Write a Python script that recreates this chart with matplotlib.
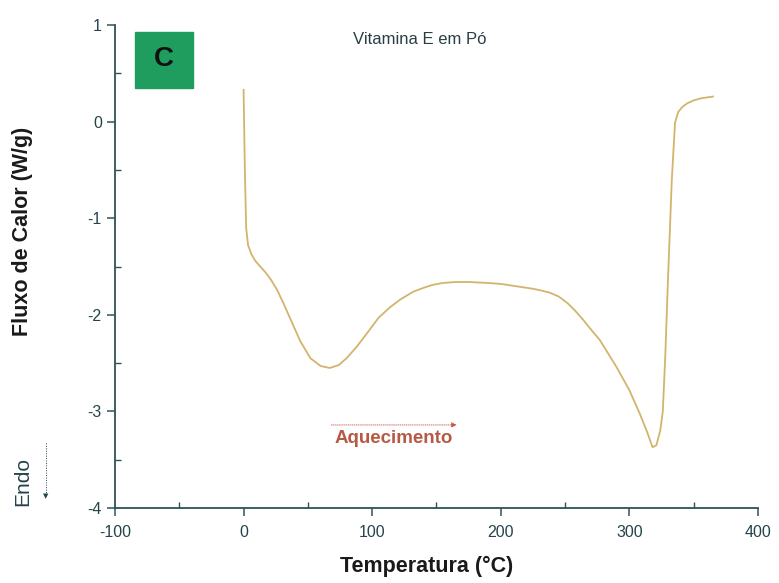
import matplotlib.pyplot as plt
from matplotlib.patches import Rectangle

plt.rcParams['font.family'] = ['Liberation Sans', 'DejaVu Sans']
plt.rcParams['axes.unicode_minus'] = False

# DSC trace, vitamin E powder
temp = [0, 1, 2, 3.5, 6, 9, 13, 17, 21, 26, 31, 36, 44, 52, 60, 67, 74, 80,
        88, 96, 105, 114, 122, 132, 140, 147, 155, 165, 175, 190, 200, 215,
        225, 232, 238, 245, 252, 258, 264, 270, 277, 290, 300, 308, 314, 318,
        321, 324, 326, 328, 330, 333, 335.5, 338, 341, 345, 350, 355, 365]
flux = [0.33, -0.5, -1.1, -1.28, -1.37, -1.44, -1.5, -1.56, -1.63, -1.74,
        -1.88, -2.03, -2.27, -2.45, -2.53, -2.55, -2.52, -2.45, -2.33, -2.19,
        -2.03, -1.92, -1.84, -1.76, -1.72, -1.69, -1.67, -1.66, -1.66, -1.67,
        -1.68, -1.71, -1.73, -1.75, -1.77, -1.81, -1.88, -1.96, -2.05, -2.15,
        -2.26, -2.54, -2.78, -3.02, -3.22, -3.37, -3.35, -3.2, -3.0, -2.4,
        -1.64, -0.6, -0.01, 0.1, 0.15, 0.19, 0.22, 0.24, 0.26]

xticks = [-100, 0, 100, 200, 300, 400]
yticks = [1, 0, -1, -2, -3, -4]

axcol = '#2d5358'
fig = plt.figure(figsize=(7.79, 5.83), dpi=100)
ax = fig.add_axes([0.1476, 0.1286, 0.8254, 0.8284])

ax.plot(temp, flux, color='#d2b46c', lw=1.3)

ax.set_xlim(-100, 400)
ax.set_ylim(-4, 1)
ax.set_xticks(xticks)
ax.set_yticks(yticks)
ax.set_xticks([-50, 50, 150, 250, 350], minor=True)
ax.set_yticks([0.5, -0.5, -1.5, -2.5, -3.5], minor=True)
ax.spines['top'].set_visible(False)
ax.spines['right'].set_visible(False)
for s in ['left', 'bottom']:
    ax.spines[s].set_color(axcol)
    ax.spines[s].set_linewidth(1.3)
ax.tick_params(which='major', direction='out', length=6, width=1.1,
               colors=axcol, labelsize=11.5, labelcolor='#24444a')
ax.tick_params(which='minor', direction='in', length=4, width=1.0, colors=axcol)
ax.tick_params(axis='x', pad=6)

ax.set_xlabel('Temperatura (°C)', fontsize=15.5, fontweight='bold', color='#1a1a1a')
ax.set_ylabel('Fluxo de Calor (W/g)', fontsize=15.5, fontweight='bold', color='#1a1a1a')
ax.xaxis.set_label_coords(0.485, -0.1)
ax.yaxis.set_label_coords(-0.128, 0.573)

# panel tag
fig.patches.append(Rectangle((135 / 779, 1 - 88 / 583), 58 / 779, 56 / 583,
                             transform=fig.transFigure, color='#1f9d5f', zorder=3))
fig.text(164 / 779, 1 - 59 / 583, 'C', fontsize=20, fontweight='bold',
         ha='center', va='center', color='#111111')

ax.text(137, 0.85, 'Vitamina E em Pó', fontsize=12, ha='center', va='center', color='#2a3f44')

# heating direction
ax.annotate('', xy=(168, -3.14), xytext=(66, -3.14),
            arrowprops=dict(arrowstyle='-|>', color='#c0583e', lw=0.6,
                            ls=(0, (1, 1.5)), mutation_scale=8))
ax.text(117, -3.28, 'Aquecimento', fontsize=13.5, fontweight='bold',
        ha='center', va='center', color='#b75a45')

# endothermic direction marker
fig.text(23 / 779, 1 - 481 / 583, 'Endo', fontsize=15, rotation=90,
         ha='center', va='center', color='#22444a')
fig.add_artist(plt.Line2D([46 / 779, 46 / 779], [1 - 443 / 583, 1 - 494 / 583],
                          color='#22444a', lw=0.7, ls=(0, (1, 1.5))))
fig.text(46 / 779, 1 - 496 / 583, '▼', fontsize=5, ha='center', va='center',
         color='#22444a', family='DejaVu Sans')

fig.savefig('out.png', dpi=100)
